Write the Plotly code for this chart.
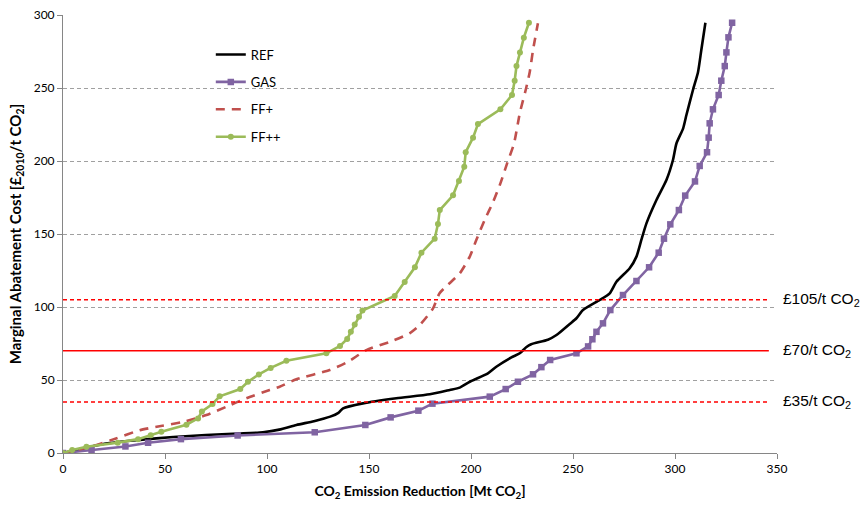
import plotly.graph_objects as go

# ---------------- data ----------------
ref_x = [0, 5, 21, 37.6, 54, 70, 86, 98, 106, 114.4, 123, 131, 135, 137.3, 147, 163.4, 179.8, 189.6,
         194.5, 199.4, 208.3, 212.4, 219.8, 223.9, 227.2, 229.5, 237.7, 241.9, 248.4, 251.7, 254.9,
         263.1, 268, 271.3, 277.8, 281.1, 283.5, 286, 290.9, 295.8, 299, 300.7, 304, 305.6, 308.8,
         311.3, 312.9, 314.9]
ref_y = [0, 1.5, 6.5, 9, 11, 12.3, 13.3, 14.2, 16, 19.2, 21.8, 24.9, 27.5, 30.6, 34, 37.5, 40.2, 43.2,
         44.8, 48.8, 54.6, 59.1, 65.5, 68.3, 72.6, 74.5, 77.6, 80.8, 88.4, 92.3, 97.9,
         104.8, 109.4, 117.3, 126.5, 134.5, 145.9, 157.3, 173.3, 187, 200.7, 212, 222.4, 231.5, 248.6,
         261, 276, 294.7]

gas_x = [0, 14, 30.6, 41.7, 57.8, 85.6, 123.4, 148.2, 160.6, 174.2, 181.1, 209.2, 217, 223, 230.4,
         234.5, 238.8, 251.7, 257.4, 259.5, 261.5, 264.7, 268.3, 274.5, 281.1, 287.3, 292, 294.6,
         297.7, 301.9, 305, 309.8, 312.1, 315.7, 316.5, 317, 318.6, 321.4, 322.7, 324.4, 325.2,
         326.2, 328]
gas_y = [0, 2, 4.5, 7, 9.5, 12, 14.2, 19.2, 24.4, 29, 33.8, 38.6, 43.8, 48.8, 53.9,
         58.8, 63.7, 68.3, 73, 77.9, 83, 88.8, 97.9, 108.2, 117.8, 127.2, 137.2, 146.8,
         156.6, 166.4, 176.3, 186, 196.6, 206, 216, 225.8, 235.4, 245.2, 255, 265, 274.4,
         284.7, 294.7]

ffp_x = [0, 14.7, 26, 37.6, 48, 58.5, 70.3, 80.1, 89.9, 101.3, 106.2, 114.4, 130.7, 139.7, 148.7,
         161, 169.9, 174.9, 181.4, 184.6, 194.5, 199.4, 202.6, 206.7, 211, 214.5, 217.7, 221.1,
         223.9, 226.8, 228.8, 230.4, 232.8]
ffp_y = [0, 4.8, 10, 15.6, 18.5, 21.2, 26, 31.7, 37.5, 43.2, 45.4, 50.5, 56.8, 62.5, 70.5,
         76.5, 82, 87.7, 99.1, 109.4, 123.1, 134.5, 145.9, 159.6, 172.5, 185, 198.4, 212,
         232.7, 248.6, 261, 276, 294.3]

ffpp_x = [0, 4.5, 11.5, 26.8, 36.8, 43, 48.2, 60.5, 66.2, 68.1, 73.3, 76.8, 86.9, 90.7, 96, 101.8,
          109.5, 129.1, 135.8, 139.3, 141.1, 143, 145.1, 146.8, 162.6, 167.5, 172.5, 175.7, 182.2,
          183.8, 184.7, 191.2, 194.1, 196.7, 197.4, 201, 203.4, 214.4, 220.1, 221.4, 222.3, 224,
          225.9, 228.4]
ffpp_y = [0, 2, 4.3, 7.1, 9.5, 12.2, 14.6, 19.4, 23.7, 28.5, 33.6, 38.8, 43.8, 48.8, 53.8, 58.3,
          63.2, 68.3, 73.3, 78.1, 83, 88, 93.4, 97.6, 107.5, 117.1, 127.2, 137.2, 146.8,
          156.8, 166.4, 176.5, 186.3, 196.1, 206, 216, 225.3, 235.4, 245.2, 255, 265, 274.4,
          284.5, 294.7]

price_levels = [105, 70, 35]
price_labels = ["£105/t CO<sub>2</sub>", "£70/t CO<sub>2</sub>", "£35/t CO<sub>2</sub>"]
price_dash = ["4px,3px", "solid", "4px,3px"]

x_ticks = [0, 50, 100, 150, 200, 250, 300, 350]
y_ticks = [0, 50, 100, 150, 200, 250, 300]

# ---------------- figure ----------------
fig = go.Figure()

fig.add_trace(go.Scatter(x=ref_x, y=ref_y, name="REF", mode="lines",
                         line=dict(color="#000000", width=2.6, shape="spline", smoothing=0.6),
                         legendgroup="a"))
fig.add_trace(go.Scatter(x=gas_x, y=gas_y, name="GAS", mode="lines+markers",
                         line=dict(color="#8064A2", width=2.6),
                         marker=dict(symbol="square", size=6.5, color="#8064A2"),
                         legendgroup="b"))
fig.add_trace(go.Scatter(x=ffp_x, y=ffp_y, name="FF+", mode="lines",
                         line=dict(color="#C0504D", width=2.6, dash="9px,7px", shape="spline", smoothing=0.6),
                         legendgroup="c"))
fig.add_trace(go.Scatter(x=ffpp_x, y=ffpp_y, name="FF++", mode="lines+markers",
                         line=dict(color="#9BBB59", width=2.6),
                         marker=dict(symbol="circle", size=6, color="#9BBB59"),
                         legendgroup="d"))

for lvl, lab, dsh in zip(price_levels, price_labels, price_dash):
    fig.add_shape(type="line", xref="x", yref="y", x0=0, x1=346, y0=lvl, y1=lvl,
                  line=dict(color="#FF0000", width=1.5, dash=dsh), layer="above")
    fig.add_annotation(x=1.0, xref="paper", y=lvl, yref="y", text=lab, showarrow=False,
                       xanchor="left", yanchor="middle", xshift=4,
                       font=dict(family="Liberation Sans, Arial", size=15.5, color="#000000"))

axis_font = dict(family="Lato, Open Sans, sans-serif", size=12, color="#000000")

fig.update_xaxes(range=[0, 350], tickvals=x_ticks, ticks="outside", ticklen=5, tickcolor="#868686",
                 showline=True, linecolor="#868686", linewidth=1, showgrid=False, zeroline=False,
                 tickfont=axis_font, automargin=False,
                 title=dict(text="<b>CO<sub>2</sub> Emission Reduction [Mt CO<sub>2</sub>]</b>",
                            font=dict(family="Lato, Open Sans, sans-serif", size=14, color="#000000"),
                            standoff=10))
fig.update_yaxes(range=[0, 300], tickvals=y_ticks, ticks="outside", ticklen=5, tickcolor="#868686",
                 showline=True, linecolor="#868686", linewidth=1, zeroline=False,
                 showgrid=True, gridcolor="#A0A0A0", gridwidth=1, griddash="4px,3px",
                 tickfont=axis_font, automargin=False,
                 title=dict(text="<b>Marginal Abatement Cost [£<sub>2010</sub>/t CO<sub>2</sub>]</b>",
                            font=dict(family="Lato, Open Sans, sans-serif", size=15, color="#000000"),
                            standoff=8))

fig.update_layout(
    width=866, height=506,
    margin=dict(l=63, r=89, t=15, b=53, autoexpand=False),
    plot_bgcolor="#FFFFFF", paper_bgcolor="#FFFFFF",
    legend=dict(x=0.207, y=0.944, xanchor="left", yanchor="top", traceorder="grouped",
                tracegroupgap=7.5, bgcolor="rgba(0,0,0,0)",
                font=dict(family="Lato, Open Sans, sans-serif", size=13, color="#000000")),
    showlegend=True,
)

fig.write_html("out.html")
